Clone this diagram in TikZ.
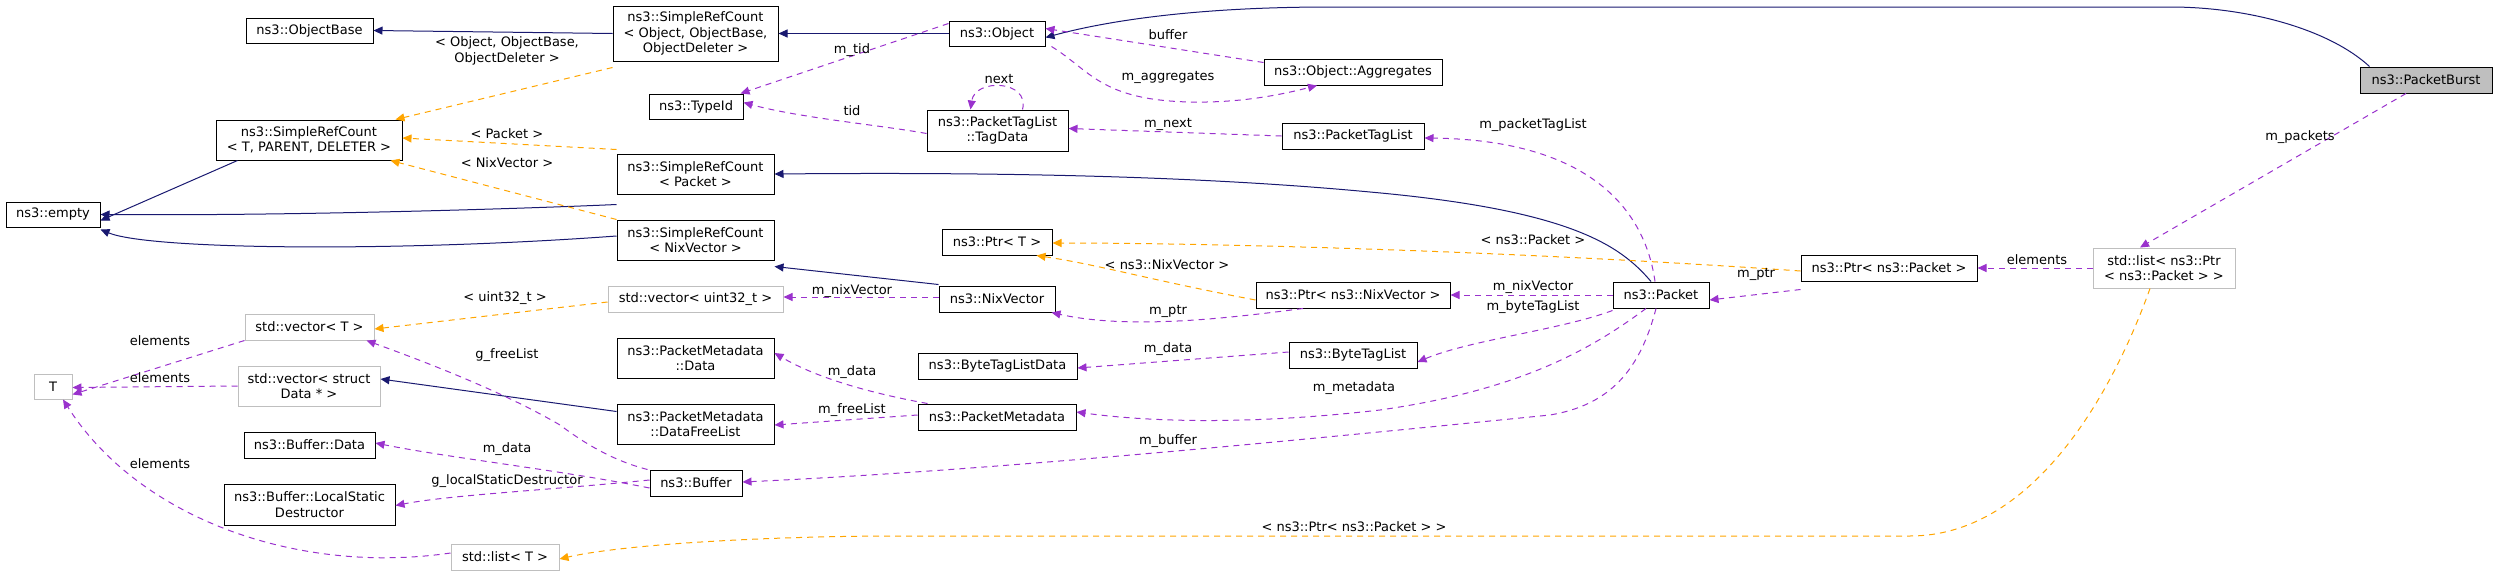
\documentclass[tikz,border=0pt]{standalone}
\usepackage{fontspec}
\setmainfont{DejaVu Sans}
\usetikzlibrary{arrows.meta}
\definecolor{inh}{HTML}{191970}
\definecolor{use}{HTML}{9A32CD}
\definecolor{tpl}{HTML}{FFA500}
\begin{document}
\begin{tikzpicture}[x=1pt,y=-1pt,
  every node/.style={font=\fontsize{13}{15.5}\selectfont},
  box/.style={draw=black,line width=1pt,inner sep=0pt,align=center,fill=white},
  gbox/.style={draw=black!25,line width=1pt,inner sep=0pt,align=center,fill=white},
  lbl/.style={inner sep=1pt,align=center},
  inh/.style={-{Triangle[width=8pt,length=9pt,fill=inh]},draw=inh,line width=1pt},
  use/.style={-{Triangle[width=8pt,length=9pt,fill=use]},draw=use,line width=1pt,dash pattern=on 6pt off 5pt},
  tpl/.style={-{Triangle[width=8pt,length=9pt,fill=tpl]},draw=tpl,line width=1pt,dash pattern=on 6pt off 5pt}]
\useasboundingbox (0,0) rectangle (2493,573);
% nodes
\node[box,minimum width=127,minimum height=25] (ObjectBase) at (309.5,30.5) {ns3::ObjectBase};
\node[box,minimum width=165,minimum height=55] (SRCObj) at (695.5,33.5) {ns3::SimpleRefCount\\< Object, ObjectBase,\\ObjectDeleter >};
\node[box,minimum width=186,minimum height=40] (SRCT) at (309,140) {ns3::SimpleRefCount\\< T, PARENT, DELETER >};
\node[box,minimum width=94,minimum height=25] (empty) at (53,214.5) {ns3::empty};
\node[box,minimum width=94,minimum height=25] (TypeId) at (696,106.5) {ns3::TypeId};
\node[box,minimum width=157,minimum height=40] (SRCPacket) at (695.5,174) {ns3::SimpleRefCount\\< Packet >};
\node[box,minimum width=157,minimum height=40] (SRCNix) at (695.5,240) {ns3::SimpleRefCount\\< NixVector >};
\node[gbox,minimum width=175,minimum height=26] (vecU) at (695.5,299) {std::vector< uint32\_t >};
\node[gbox,minimum width=129,minimum height=26] (vecT) at (309.5,327) {std::vector< T >};
\node[gbox,minimum width=38,minimum height=25] (T) at (53,386.5) {T};
\node[gbox,minimum width=142,minimum height=40] (vecData) at (309,386) {std::vector< struct\\Data * >};
\node[box,minimum width=157,minimum height=40] (PMData) at (695.5,358) {ns3::PacketMetadata\\::Data};
\node[box,minimum width=157,minimum height=40] (PMFree) at (695.5,424) {ns3::PacketMetadata\\::DataFreeList};
\node[box,minimum width=131,minimum height=26] (BufData) at (309.5,445) {ns3::Buffer::Data};
\node[box,minimum width=92,minimum height=26] (Buffer) at (696,483) {ns3::Buffer};
\node[box,minimum width=171,minimum height=41] (BufLSD) at (309.5,504.5) {ns3::Buffer::LocalStatic\\Destructor};
\node[gbox,minimum width=108,minimum height=26] (listT) at (505,557) {std::list< T >};
\node[box,minimum width=96,minimum height=25] (Object) at (997,33.5) {ns3::Object};
\node[box,minimum width=178,minimum height=26] (Aggr) at (1353,72) {ns3::Object::Aggregates};
\node[box,minimum width=141,minimum height=41] (TagData) at (997.5,130.5) {ns3::PacketTagList\\::TagData};
\node[box,minimum width=142,minimum height=26] (PTL) at (1353,136) {ns3::PacketTagList};
\node[box,minimum width=110,minimum height=26] (PtrT) at (997,242) {ns3::Ptr< T >};
\node[box,minimum width=116,minimum height=26] (NixVector) at (997,299) {ns3::NixVector};
\node[box,minimum width=194,minimum height=26] (PtrNix) at (1353,295) {ns3::Ptr< ns3::NixVector >};
\node[box,minimum width=96,minimum height=26] (Packet) at (1661,295) {ns3::Packet};
\node[box,minimum width=159,minimum height=26] (BTLData) at (997.5,366) {ns3::ByteTagListData};
\node[box,minimum width=128,minimum height=26] (BTL) at (1353,355) {ns3::ByteTagList};
\node[box,minimum width=158,minimum height=26] (PM) at (997,417) {ns3::PacketMetadata};
\node[box,minimum width=132,minimum height=26,fill=black!25] (PacketBurst) at (2426,80) {ns3::PacketBurst};
\node[box,minimum width=176,minimum height=26] (PtrPacket) at (1889,268) {ns3::Ptr< ns3::Packet >};
\node[gbox,minimum width=142,minimum height=40] (listPtr) at (2164,268) {std::list< ns3::Ptr\\< ns3::Packet > >};
% inheritance
\draw[inh] (SRCObj.west) -- (ObjectBase.east);
\draw[inh] (Object.west) -- (SRCObj.east);
\draw[inh] ([xshift=10]PacketBurst.north west) .. controls (2330,30) and (2250,7) .. (2170,7) -- (1330,7) .. controls (1200,7) and (1110,20) .. ([yshift=-4]Object.east);
\draw[inh] ([xshift=22]SRCT.south west) -- ([yshift=-6]empty.east);
\draw[inh] ([yshift=-10]SRCPacket.south west) .. controls (540,208) and (300,216) .. (empty.east);
\draw[inh] ([yshift=4]SRCNix.west) .. controls (400,252) and (150,250) .. ([yshift=-2]empty.south east);
\draw[inh] ([xshift=-10]Packet.north) .. controls (1620,245) and (1570,210) .. (1370,192) .. controls (1200,176) and (1000,172) .. (SRCPacket.east);
\draw[inh] ([yshift=1]NixVector.north west) -- ([yshift=-6]SRCNix.south east);
\draw[inh] ([yshift=-8]PMFree.north west) -- ([yshift=7]vecData.east);
% templates
\draw[tpl] ([yshift=-6]SRCObj.south west) -- ([xshift=-7]SRCT.north east);
\draw[tpl] ([yshift=4]SRCPacket.north west) -- ([yshift=2]SRCT.east);
\draw[tpl] (SRCNix.north west) -- ([xshift=-12]SRCT.south east);
\draw[tpl] ([yshift=-3]vecU.west) -- ([yshift=-2]vecT.east);
\draw[tpl] ([yshift=-5]PtrNix.west) .. controls (1150,280) and (1100,265) .. ([xshift=-16]PtrT.south east);
\draw[tpl] ([yshift=-3]PtrPacket.west) .. controls (1500,250) and (1200,243) .. ([yshift=-1]PtrT.east);
\draw[tpl] ([xshift=-14]listPtr.south) .. controls (2110,400) and (2030,536) .. (1910,536) -- (900,536) .. controls (760,536) and (620,545) .. ([yshift=-2]listT.east);
% usages
\draw[use] ([yshift=10]Object.west) -- ([xshift=-3]TypeId.north east);
\draw[use] ([yshift=-3]TagData.west) .. controls (880,125) and (800,118) .. ([yshift=4]TypeId.east);
\draw[use] ([yshift=-4]Aggr.north west) -- ([yshift=5]Object.east);
\draw[use] ([xshift=6]Object.south east) .. controls (1090,70) and (1100,100) .. (1190,102) .. controls (1240,103) and (1280,95) .. ([xshift=-36]Aggr.south);
\draw[use] ([xshift=25]TagData.north) .. controls (1030,80) and (975,78) .. ([xshift=-27]TagData.north);
\draw[use] ([yshift=0]PTL.west) -- ([yshift=2]TagData.east);
\draw[use] ([xshift=-6]Packet.north) .. controls (1645,210) and (1590,140) .. ([yshift=-2]PTL.east);
\draw[use] ([yshift=2]NixVector.west) -- ([yshift=2]vecU.east);
\draw[use] ([xshift=-50]PtrNix.south) .. controls (1230,318) and (1130,330) .. ([xshift=-4]NixVector.south east);
\draw[use] (Packet.west) -- (PtrNix.east);
\draw[use] ([yshift=-2]Packet.south west) .. controls (1560,330) and (1470,340) .. ([yshift=-7]BTL.east);
\draw[use] ([yshift=3]BTL.west) -- ([yshift=-2]BTLData.east);
\draw[use] ([xshift=-15]Packet.south) .. controls (1590,350) and (1520,390) .. (1380,410) .. controls (1250,425) and (1150,422) .. ([yshift=5]PM.east);
\draw[use] ([xshift=10]PM.north west) .. controls (880,395) and (820,380) .. ([yshift=5]PMData.east);
\draw[use] ([yshift=2]PM.west) -- ([yshift=-1]PMFree.east);
\draw[use] ([xshift=-5]Packet.south) .. controls (1640,370) and (1610,405) .. (1550,415) .. controls (1300,440) and (1000,470) .. ([yshift=1]Buffer.east);
\draw[use] ([xshift=-2]Buffer.north west) .. controls (610,460) and (580,440) .. (560,425) .. controls (500,390) and (420,360) .. ([xshift=-8]vecT.south east);
\draw[use] ([yshift=-5]Buffer.west) .. controls (560,470) and (450,458) .. ([yshift=2]BufData.east);
\draw[use] ([yshift=3]Buffer.west) .. controls (550,490) and (450,495) .. ([yshift=-1]BufLSD.east);
\draw[use] (vecT.south west) -- ([yshift=-8]T.east);
\draw[use] (vecData.west) -- ([yshift=-1]T.east);
\draw[use] ([yshift=4]listT.west) .. controls (300,575) and (140,520) .. ([xshift=10]T.south);
\draw[use] ([yshift=-8]PtrPacket.south west) -- ([yshift=-5]Packet.east);
\draw[use] (listPtr.west) -- (PtrPacket.east);
\draw[use] ([xshift=-20]PacketBurst.south) -- ([xshift=-24]listPtr.north);
% labels
\node[lbl] at (507,51) {< Object, ObjectBase,\\ObjectDeleter >};
\node[lbl] at (852,50) {m\_tid};
\node[lbl] at (852,111) {tid};
\node[lbl] at (507,134) {< Packet >};
\node[lbl] at (507,163) {< NixVector >};
\node[lbl] at (505,298) {< uint32\_t >};
\node[lbl] at (160,341) {elements};
\node[lbl] at (160,378) {elements};
\node[lbl] at (160,464) {elements};
\node[lbl] at (507,355) {g\_freeList};
\node[lbl] at (852,372) {m\_data};
\node[lbl] at (852,410) {m\_freeList};
\node[lbl] at (507,449) {m\_data};
\node[lbl] at (507,481) {g\_localStaticDestructor};
\node[lbl] at (852,291) {m\_nixVector};
\node[lbl] at (1168,35) {buffer};
\node[lbl] at (1168,77) {m\_aggregates};
\node[lbl] at (999,79) {next};
\node[lbl] at (1168,124) {m\_next};
\node[lbl] at (1533,125) {m\_packetTagList};
\node[lbl] at (1533,240) {< ns3::Packet >};
\node[lbl] at (1167,265) {< ns3::NixVector >};
\node[lbl] at (1533,287) {m\_nixVector};
\node[lbl] at (1168,311) {m\_ptr};
\node[lbl] at (1533,307) {m\_byteTagList};
\node[lbl] at (1168,349) {m\_data};
\node[lbl] at (1354,388) {m\_metadata};
\node[lbl] at (1168,441) {m\_buffer};
\node[lbl] at (1354,527) {< ns3::Ptr< ns3::Packet > >};
\node[lbl] at (2300,137) {m\_packets};
\node[lbl] at (2037,260) {elements};
\node[lbl] at (1756,274) {m\_ptr};
\end{tikzpicture}
\end{document}
